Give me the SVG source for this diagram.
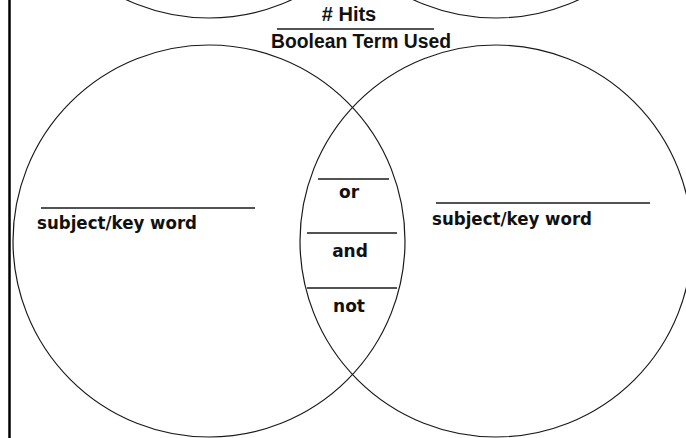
<svg xmlns="http://www.w3.org/2000/svg" width="686" height="438" viewBox="0 0 686 438">
  <style>
    .ring { fill: none; stroke: #1a1a1a; stroke-width: 1.2; }
    .rule { stroke: #1a1a1a; stroke-width: 1.4; }
    .lbl { font-family: "DejaVu Sans", "Liberation Sans", sans-serif; font-weight: bold; font-size: 17px; fill: #111; }
    .head { font-family: "Liberation Sans", Arial, sans-serif; font-weight: bold; font-size: 20px; fill: #111; }
  </style>
  <rect width="686" height="438" fill="#fff"/>

  <!-- page margin rule -->
  <line x1="9.5" y1="0" x2="9.5" y2="438" stroke="#000" stroke-width="2.5"/>

  <!-- previous diagram's circles, continuing above the top edge -->
  <g id="upper-circles">
    <circle class="ring" cx="209" cy="-178" r="196"/>
    <circle class="ring" cx="496" cy="-178" r="196"/>
  </g>

  <!-- header: hits over Boolean term -->
  <g id="header">
    <text class="head" x="349" y="21" text-anchor="middle">#  Hits</text>
    <line class="rule" x1="277" y1="29" x2="434" y2="29"/>
    <text class="head" x="271" y="48" textLength="180" lengthAdjust="spacingAndGlyphs">Boolean Term Used</text>
  </g>

  <!-- left set -->
  <g id="left-set">
    <circle class="ring" cx="209" cy="241" r="196"/>
    <line class="rule" x1="41" y1="208" x2="255" y2="208"/>
    <text class="lbl" x="37" y="229" textLength="160" lengthAdjust="spacingAndGlyphs">subject/key word</text>
  </g>

  <!-- right set -->
  <g id="right-set">
    <circle class="ring" cx="496" cy="241" r="196"/>
    <line class="rule" x1="436" y1="203" x2="650" y2="203"/>
    <text class="lbl" x="432" y="225" textLength="160" lengthAdjust="spacingAndGlyphs">subject/key word</text>
  </g>

  <!-- overlap: Boolean operators -->
  <g id="overlap">
    <line class="rule" x1="318" y1="179" x2="389" y2="179"/>
    <text class="lbl" x="349" y="198" text-anchor="middle">or</text>
    <line class="rule" x1="307" y1="233" x2="397" y2="233"/>
    <text class="lbl" x="350" y="257" text-anchor="middle">and</text>
    <line class="rule" x1="307" y1="288" x2="397" y2="288"/>
    <text class="lbl" x="349" y="312" text-anchor="middle">not</text>
  </g>
</svg>
